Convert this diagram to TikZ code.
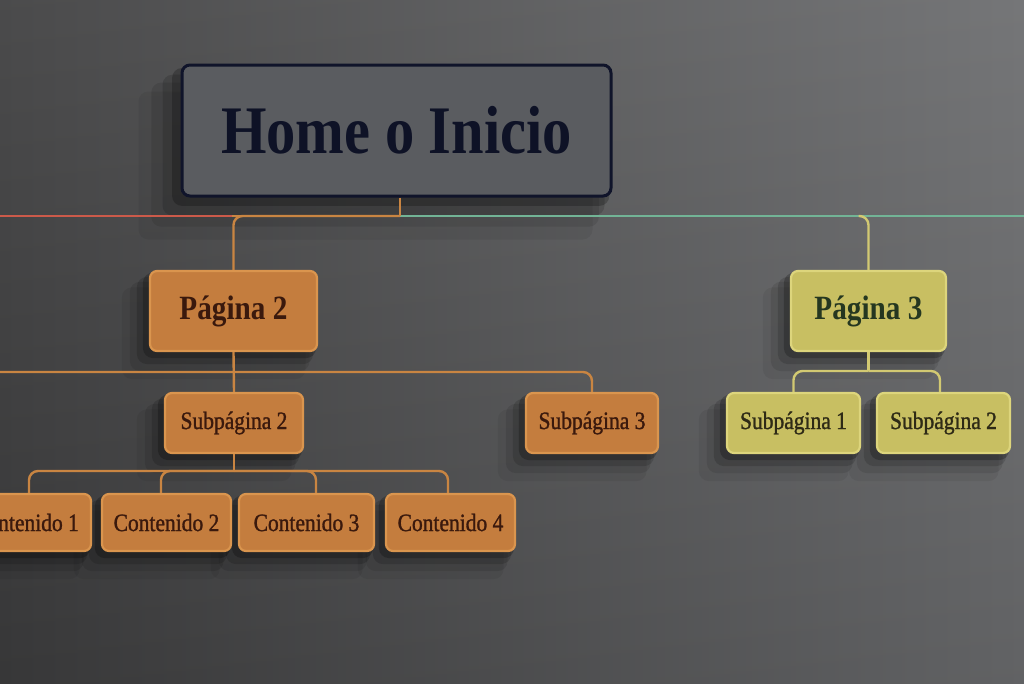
\documentclass[tikz,border=0pt]{standalone}
\usepackage{fontspec}
\setmainfont{Liberation Serif}
\newfontfamily\lab[FakeStretch=0.86]{Liberation Serif}
\newfontfamily\labmed[FakeStretch=0.86,FakeBold=1.2]{Liberation Serif}
\usetikzlibrary{calc}
\pgfdeclarelayer{back}
\pgfdeclarelayer{shadowlayer}
\pgfsetlayers{back,shadowlayer,main}
\definecolor{bgL}{HTML}{3C3C3D}
\definecolor{bgR}{HTML}{6A6B6D}
\definecolor{homeF}{HTML}{5A5C60}
\definecolor{homeD}{HTML}{10142A}
\definecolor{homeT}{HTML}{0E1226}
\definecolor{orF}{HTML}{C47D3E}
\definecolor{orD}{HTML}{DA954E}
\definecolor{orT}{HTML}{3A190D}
\definecolor{orL}{HTML}{C98542}
\definecolor{yeF}{HTML}{C8BF62}
\definecolor{yeD}{HTML}{DDD57C}
\definecolor{yeT}{HTML}{253720}
\definecolor{yeT2}{HTML}{2E2A16}
\definecolor{yeL}{HTML}{D2C972}
\definecolor{redL}{HTML}{CC5A4A}
\definecolor{grL}{HTML}{72B496}
\tikzset{
  homebox/.style={draw=homeD, line width=3pt, fill=homeF, rounded corners=8pt,
    text=homeT, font=\lab\bfseries\fontsize{68}{70}\selectfont, inner sep=0pt},
  orbox/.style={draw=orD, line width=2.2pt, fill=orF, rounded corners=7pt,
    text=orT, inner sep=0pt},
  yebox/.style={draw=yeD, line width=2.2pt, fill=yeF, rounded corners=7pt,
    text=yeT2, inner sep=0pt},
  bigtxt/.style={font=\lab\bfseries\fontsize{34}{36}\selectfont},
  smtxt/.style={font=\labmed\fontsize{25}{27}\selectfont},
  orline/.style={draw=orL, line width=2.4pt, rounded corners=9pt},
  yeline/.style={draw=yeL, line width=2.4pt, rounded corners=9pt},
  shadowfill/.style={fill=black, rounded corners=10pt},
}
\begin{document}
\begin{tikzpicture}[x=1pt,y=-1pt]
\useasboundingbox (0,0) rectangle (1024,683);
\clip (0,0) rectangle (1024,683);
\begin{pgfonlayer}{back}
\shade[left color=bgL, right color=bgR] (0,0) rectangle (1024,683);
\shade[top color=white, bottom color=black, opacity=.08] (0,0) rectangle (1024,683);
\end{pgfonlayer}

% main rails
\coordinate (L) at (0,216);
\coordinate (J) at (400,216);
\coordinate (R) at (1024,216);
\coordinate (Jo) at (232,216);
\draw[draw=redL, line width=2.6pt] (L) -- (Jo);
\draw[draw=orL, line width=2.6pt] (Jo) -- (J);
\draw[draw=grL, line width=2.6pt] (J) -- (R);

% nodes
\node[homebox, minimum width=429pt, minimum height=131pt] (home) at (396.5,130.5) {Home o Inicio};

\node[orbox, bigtxt, minimum width=167pt, minimum height=80pt] (p2) at (233.5,311) {Página 2};
\node[yebox, bigtxt, text=yeT, minimum width=155pt, minimum height=80pt] (p3) at (868.5,311) {Página 3};

\node[orbox, smtxt, minimum width=138pt, minimum height=60pt] (s2) at (234,423) {Subpágina 2};
\node[orbox, smtxt, minimum width=132pt, minimum height=60pt] (s3) at (592,423) {Subpágina 3};
\node[yebox, smtxt, minimum width=133pt, minimum height=60pt] (t1) at (793.5,423) {Subpágina 1};
\node[yebox, smtxt, minimum width=133pt, minimum height=60pt] (t2) at (943.5,423) {Subpágina 2};

\node[orbox, smtxt, minimum width=130pt, minimum height=57pt] (c1) at (26,522.5) {Contenido 1};
\node[orbox, smtxt, minimum width=129pt, minimum height=57pt] (c2) at (166.5,522.5) {Contenido 2};
\node[orbox, smtxt, minimum width=135pt, minimum height=57pt] (c3) at (306.5,522.5) {Contenido 3};
\node[orbox, smtxt, minimum width=129pt, minimum height=57pt] (c4) at (450.5,522.5) {Contenido 4};

% soft shadows, all beneath the boxes
\begin{pgfonlayer}{shadowlayer}
\foreach \n/\s in {home/1.6,p2/1,p3/1,s2/1,s3/1,t1/1,t2/1,c1/1,c2/1,c3/1,c4/1}{
  \foreach \d/\o in {4/.22,10/.14,17/.09,25/.06}{
    \fill[shadowfill, opacity=\o]
      ($(\n.north west)+(-\s*\d-2,\s*\d*0.7)$) rectangle ($(\n.south east)+(-\s*\d*0.5,\s*\d+2)$);
  }
}
\end{pgfonlayer}

% connectors
\draw[orline, rounded corners=0pt] (home.south -| J) -- (J);
\draw[orline] (J) -| (p2.north);
\draw[yeline] (J -| p3.north) ++(-10,0) -| (p3.north);

\coordinate (P2L) at (0,372);
\draw[orline] (p2.south) -- (s2.north);
\draw[orline] (P2L) -| (s3.north);

\coordinate (S2j) at (234,471);
\draw[orline] (s2.south) -- (S2j);
\draw[orline] (S2j) -| (c1.north -| 29,0);
\draw[orline] (S2j) -| (c2.north -| 161,0);
\draw[orline] (S2j) -| (c3.north -| 316,0);
\draw[orline] (S2j) -| (c4.north -| 448,0);

\coordinate (P3j) at (868.5,371);
\draw[yeline] (p3.south) -- (P3j);
\draw[yeline] (P3j) -| (t1.north);
\draw[yeline] (P3j) -| (t2.north -| 940,0);
\end{tikzpicture}
\end{document}
